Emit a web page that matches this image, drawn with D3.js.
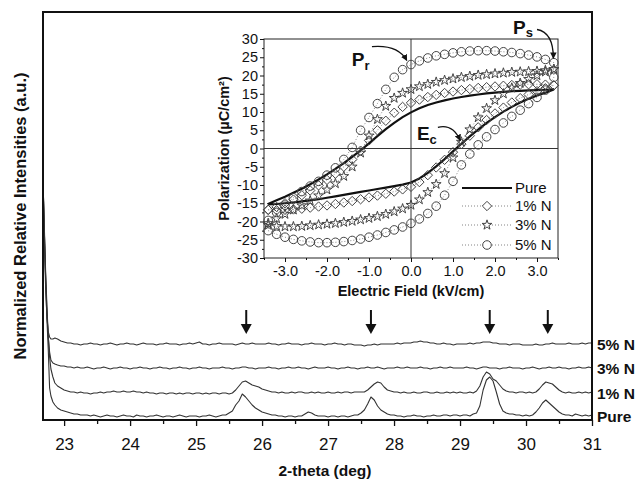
<!DOCTYPE html>
<meta charset="utf-8">
<style>
body { margin: 0; background: #fff; }
text { font-family: "Liberation Sans", Arial, sans-serif; fill: #111; }
.trace { fill: none; stroke: #333; stroke-width: 1.1px; stroke-linejoin: round; }
.frame { fill: none; stroke: #111; stroke-width: 2px; }
.axis path { display: none; }
.axis line { stroke: #111; stroke-width: 1.3px; }
.inset .axis line { stroke-width: 1px; }
</style>
<body>
<script src="https://cdn.jsdelivr.net/npm/d3@7"></script>
<script>

// ---------- XRD data (main plot) ----------
// first few angles are taken closer together, then the scan is every 0.05 deg
var thetaHead = [22.68, 22.70, 22.72, 22.74, 22.76, 22.78, 22.80, 22.83, 22.86, 22.90, 22.95];
var theta = thetaHead.concat(d3.range(161).map(function(i) { return +(23 + i * 0.05).toFixed(2); }));

var samples = ["Pure", "1% N", "3% N", "5% N"];
var offsets = [0, 23, 48, 72];

var pure = [240,190,140,100,70,32,24,18,15,12,10,
  9,8,7,6,6,5,5,5,4,5,
  4,3,4,5,4,4,3,4,5,4,
  4,3,5,4,4,3,4,4,5,4,
  3,4,4,3,4,5,4,3,4,4,
  4,3,4,4,5,4,3,4,5,5,
  7,9,15,19,26,23,19,15,12,10,
  8,7,6,5,5,4,4,3,4,4,
  3,4,4,6,8,7,5,4,4,4,
  3,4,4,3,4,4,3,4,5,5,
  7,10,16,23,20,14,10,8,6,5,
  5,4,4,3,4,4,5,4,4,3,
  4,4,5,4,4,5,5,4,5,5,
  4,5,5,4,6,7,14,30,40,43,
  39,28,16,9,7,6,6,5,5,4,
  5,4,5,8,12,17,20,17,14,11,
  8,6,5,5,4,6,5,4,5,4,
  5];

var n1 = [217,170,125,90,60,40,28,20,14,11,9,
  7,6,5,5,4,5,4,4,3,4,
  4,5,4,5,5,6,5,5,6,5,
  5,6,5,5,4,5,4,4,3,4,
  4,3,4,4,3,4,3,4,4,3,
  4,4,3,4,3,4,4,3,4,4,
  3,4,7,11,15,16,14,12,11,10,
  8,7,6,5,5,4,5,4,4,5,
  4,5,5,4,4,5,4,5,4,4,
  5,4,4,5,4,5,5,4,5,5,
  5,5,7,10,13,15,14,10,7,6,
  5,5,4,5,4,4,5,4,4,5,
  5,4,4,5,4,4,5,4,5,4,
  5,4,4,5,4,6,11,20,25,23,
  18,16,12,8,6,5,5,4,5,5,
  4,5,4,5,8,12,15,14,13,10,
  7,5,4,5,4,4,5,4,5,4,
  5];

var n3 = [192,140,95,60,35,20,12,9,8,7,6,
  6,5,5,4,5,4,4,5,4,3,
  4,4,5,4,3,4,4,5,4,4,
  3,4,4,5,4,4,3,4,4,5,
  4,4,3,4,4,5,4,4,3,4,
  4,5,4,4,3,4,4,4,5,4,
  4,3,4,4,5,5,4,4,3,4,
  4,4,5,4,4,3,4,4,5,4,
  4,5,4,4,3,4,5,4,4,4,
  5,4,4,3,4,4,5,4,4,3,
  4,4,5,4,4,5,4,3,4,4,
  4,5,4,4,5,4,4,4,5,4,
  4,3,4,4,5,4,4,5,4,4,
  4,4,5,4,4,3,4,5,5,4,
  4,4,3,4,4,5,4,4,4,3,
  4,4,5,4,3,4,4,5,4,4,
  5,4,4,3,4,4,5,4,4,5,
  4];

var n5 = [168,110,60,30,16,11,9,9,10,9,7,
  6,5,5,4,4,3,4,4,5,4,
  4,3,4,4,5,4,3,4,4,5,
  4,4,3,4,5,4,4,4,3,4,
  4,5,4,4,4,3,4,4,5,4,
  5,6,4,4,3,4,4,5,4,4,
  4,4,3,4,5,4,4,5,4,4,
  4,4,5,4,4,3,4,4,5,4,
  4,4,3,4,4,5,4,4,4,3,
  4,4,5,4,4,3,4,4,3,3,
  3,2,3,3,4,3,4,4,4,4,
  4,5,4,5,5,5,6,6,7,6,
  6,5,5,4,4,5,4,4,3,4,
  4,4,4,5,4,5,5,6,6,6,
  5,5,4,4,4,3,4,4,4,3,
  3,3,3,4,3,3,4,4,5,4,
  4,4,4,5,4,4,4,5,4,5,
  5];

var peakArrows = [25.76, 27.65, 29.45, 30.33];
var xTicks = [23, 24, 25, 26, 27, 28, 29, 30, 31];

// ---------- P-E loops (inset) ----------
var field = [-3.4,-3.2,-3.0,-2.8,-2.6,-2.4,-2.2,-2.0,-1.8,-1.6,-1.4,-1.2,-1.0,-0.8,-0.6,-0.4,-0.2,
  0,0.2,0.4,0.6,0.8,1.0,1.2,1.4,1.6,1.8,2.0,2.2,2.4,2.6,2.8,3.0,3.2,3.4];

var pureUp = [-15.2,-14.2,-13.2,-12.1,-11.0,-9.8,-8.5,-7.1,-5.6,-4.0,-2.3,-0.5,1.4,3.4,5.3,7.0,8.6,
  9.9,11.0,11.9,12.6,13.2,13.7,14.1,14.5,14.8,15.1,15.3,15.5,15.7,15.8,15.9,16.0,16.1,16.2];
var pureLo = [-15.3,-15.2,-15.0,-14.8,-14.5,-14.2,-13.9,-13.5,-13.1,-12.7,-12.3,-11.9,-11.5,-11.1,-10.7,-10.3,-9.9,
  -9.3,-8.2,-6.7,-4.9,-2.9,-0.8,1.3,3.3,5.2,7.0,8.6,10.1,11.4,12.6,13.6,14.5,15.3,16.2];

var n1Up = [-16.8,-16.0,-15.0,-14.0,-12.8,-11.5,-10.1,-8.6,-6.9,-5.0,-3.0,-0.6,2.2,5.0,7.6,9.8,11.4,
  12.5,13.4,14.1,14.7,15.2,15.6,16.0,16.3,16.6,16.8,17.0,17.2,17.4,17.5,17.6,17.6,17.5,17.3];
var n1Lo = [-16.8,-16.9,-16.8,-16.7,-16.5,-16.2,-15.9,-15.6,-15.2,-14.8,-14.4,-13.9,-13.4,-12.9,-12.4,-11.8,-11.2,
  -10.5,-9.2,-7.3,-5.2,-3.1,-1.0,1.2,3.5,5.8,7.8,9.6,11.2,12.6,13.8,14.8,15.7,16.5,17.3];

var n3Up = [-20.5,-19.2,-18.0,-16.8,-15.6,-14.3,-12.9,-11.3,-9.6,-7.6,-5.0,-1.2,3.5,8.0,11.6,13.8,15.2,
  16.2,17.0,17.6,18.2,18.7,19.1,19.5,19.8,20.1,20.3,20.5,20.7,20.9,21.0,21.1,21.2,21.4,21.7];
var n3Lo = [-21.0,-21.3,-21.4,-21.4,-21.3,-21.1,-20.9,-20.7,-20.5,-20.2,-19.9,-19.5,-19.1,-18.6,-18.0,-17.3,-16.5,
  -15.5,-14.0,-12.0,-9.8,-6.8,-2.5,1.8,5.2,8.5,11.0,13.2,15.0,16.6,17.9,19.0,20.0,21.0,21.7];

var n5Up = [-19.7,-17.5,-15.5,-13.5,-11.8,-10.3,-9.0,-7.3,-5.3,-3.0,0.3,5.0,8.5,12.3,16.2,19.5,21.6,
  23.0,24.0,24.8,25.4,25.8,26.2,26.5,26.7,26.8,26.8,26.7,26.5,26.3,26.0,25.6,25.1,24.4,23.5];
var n5Lo = [-22.5,-23.5,-24.3,-24.9,-25.3,-25.6,-25.8,-25.8,-25.7,-25.5,-25.2,-24.8,-24.3,-23.7,-23.0,-22.3,-21.5,
  -20.5,-19.3,-17.8,-15.8,-12.8,-9.0,-4.5,-1.5,1.0,3.2,5.2,7.0,8.8,10.5,12.3,14.0,16.0,19.5];

var eTicks = [-3, -2, -1, 0, 1, 2, 3];
var pTicks = [-30, -25, -20, -15, -10, -5, 0, 5, 10, 15, 20, 25, 30];

// ---------- svg ----------
var svg = d3.select("body").append("svg")
    .attr("width", 641)
    .attr("height", 479);

// main scales
var x = d3.scaleLinear().domain([22.68, 31]).range([43, 592]);
var y = d3.scaleLinear().domain([0, 408]).range([420, 12]);

// traces
var series = [pure, n1, n3, n5];
series.forEach(function(vals, k) {
  var line = d3.line()
      .x(function(d, i) { return x(theta[i]); })
      .y(function(d) { return y(d + offsets[k]); });
  svg.append("path").datum(vals).attr("class", "trace").attr("d", line);
});

// frame
svg.append("rect").attr("class", "frame")
    .attr("x", x.range()[0]).attr("y", y.range()[1])
    .attr("width", x.range()[1] - x.range()[0])
    .attr("height", y.range()[0] - y.range()[1]);

// x axis (major + minor)
svg.append("g").attr("class", "axis")
    .attr("transform", "translate(0," + y(0) + ")")
    .call(d3.axisBottom(x).tickValues(xTicks).tickSize(6).tickPadding(12).tickFormat(d3.format("d")))
    .selectAll("text").style("font-size", "17px").attr("fill", "#111");
svg.append("g").attr("class", "axis")
    .attr("transform", "translate(0," + y(0) + ")")
    .call(d3.axisBottom(x).tickValues(xTicks.slice(0, -1).map(function(d) { return d + 0.5; })).tickSize(4).tickFormat(""));

svg.append("text")
    .attr("x", 325).attr("y", 476)
    .attr("text-anchor", "middle")
    .style("font-size", "15.5px").style("font-weight", "bold")
    .text("2-theta (deg)");

svg.append("text")
    .attr("transform", "translate(26,216) rotate(-90)")
    .attr("text-anchor", "middle")
    .style("font-size", "16.5px").style("font-weight", "bold")
    .text("Normalized Relative Intensities (a.u.)");

// sample labels at right
samples.forEach(function(s, k) {
  svg.append("text")
      .attr("x", 597).attr("y", y(offsets[k] + 4))
      .attr("dy", "0.36em")
      .style("font-size", "15.5px").style("font-weight", "bold")
      .text(s);
});

// peak arrows
peakArrows.forEach(function(t) {
  var xa = x(t);
  svg.append("line")
      .attr("x1", xa).attr("x2", xa)
      .attr("y1", y(110)).attr("y2", y(93))
      .attr("stroke", "#111").attr("stroke-width", 2);
  svg.append("path")
      .attr("d", "M" + (xa - 5.5) + "," + y(96) + "L" + (xa + 5.5) + "," + y(96) + "L" + xa + "," + y(86) + "Z")
      .attr("fill", "#111");
});

// ---------- inset ----------
var ix = d3.scaleLinear().domain([-3.5, 3.5]).range([264, 558]);
var iy = d3.scaleLinear().domain([-30, 30]).range([258, 39]);

var inset = svg.append("g").attr("class", "inset");

inset.append("rect")
    .attr("x", ix(-3.5)).attr("y", iy(30))
    .attr("width", ix(3.5) - ix(-3.5)).attr("height", iy(-30) - iy(30))
    .attr("fill", "#fff").attr("stroke", "#222").attr("stroke-width", 1);

// zero lines
inset.append("line").attr("x1", ix(0)).attr("x2", ix(0)).attr("y1", iy(30)).attr("y2", iy(-30))
    .attr("stroke", "#333").attr("stroke-width", 1);
inset.append("line").attr("x1", ix(-3.5)).attr("x2", ix(3.5)).attr("y1", iy(0)).attr("y2", iy(0))
    .attr("stroke", "#333").attr("stroke-width", 1);

// axes
inset.append("g").attr("class", "axis")
    .attr("transform", "translate(" + ix(-3.5) + ",0)")
    .call(d3.axisLeft(iy).tickValues(pTicks).tickSize(4).tickPadding(2).tickFormat(function(d) { return String(d); }))
    .selectAll("text").style("font-size", "14.5px").attr("fill", "#111");
inset.append("g").attr("class", "axis")
    .attr("transform", "translate(" + ix(-3.5) + ",0)")
    .call(d3.axisLeft(iy).tickValues(pTicks.slice(0, -1).map(function(d) { return d + 2.5; })).tickSize(2).tickFormat(""));
inset.append("g").attr("class", "axis")
    .attr("transform", "translate(0," + iy(-30) + ")")
    .call(d3.axisBottom(ix).tickValues(eTicks).tickSize(4).tickPadding(4).tickFormat(function(d) { return d.toFixed(1); }))
    .selectAll("text").style("font-size", "14.5px").attr("fill", "#111");
inset.append("g").attr("class", "axis")
    .attr("transform", "translate(0," + iy(-30) + ")")
    .call(d3.axisBottom(ix).tickValues([-3.5, -2.5, -1.5, -0.5, 0.5, 1.5, 2.5, 3.5]).tickSize(2).tickFormat(""));

inset.append("text")
    .attr("x", ix(0)).attr("y", 296)
    .attr("text-anchor", "middle")
    .style("font-size", "14.5px").style("font-weight", "bold")
    .text("Electric Field (kV/cm)");
inset.append("text")
    .attr("transform", "translate(229," + iy(0) + ") rotate(-90)")
    .attr("text-anchor", "middle")
    .style("font-size", "14.5px").style("font-weight", "bold")
    .text("Polarization (\u00B5C/cm\u00B2)");

// loops
function loopPoints(lo, up) {
  var pts = field.map(function(e, i) { return [e, lo[i]]; });
  for (var i = field.length - 1; i >= 0; i--) pts.push([field[i], up[i]]);
  return pts;
}
var loopLine = d3.line()
    .x(function(d) { return ix(d[0]); })
    .y(function(d) { return iy(d[1]); });

var loops = [
  {name: "Pure", pts: loopPoints(pureLo, pureUp), symbol: null},
  {name: "1% N", pts: loopPoints(n1Lo, n1Up), symbol: d3.symbol().type(d3.symbolDiamond2).size(56)},
  {name: "3% N", pts: loopPoints(n3Lo, n3Up), symbol: d3.symbol().type(d3.symbolStar).size(30)},
  {name: "5% N", pts: loopPoints(n5Lo, n5Up), symbol: "circle"}
];

loops.forEach(function(s) {
  if (s.symbol === null) {
    inset.append("path").datum(s.pts.concat([s.pts[0]]))
        .attr("d", loopLine).attr("fill", "none")
        .attr("stroke", "#111").attr("stroke-width", 2.2);
    return;
  }
  inset.append("path").datum(s.pts.concat([s.pts[0]]))
      .attr("d", loopLine).attr("fill", "none")
      .attr("stroke", "#666").attr("stroke-width", 0.8).attr("stroke-dasharray", "1,2");
  var g = inset.append("g");
  if (s.symbol === "circle") {
    g.selectAll("circle").data(s.pts).enter().append("circle")
        .attr("cx", function(d) { return ix(d[0]); })
        .attr("cy", function(d) { return iy(d[1]); })
        .attr("r", 4.3)
        .attr("fill", "none").attr("stroke", "#444").attr("stroke-width", 1);
  } else {
    g.selectAll("path").data(s.pts).enter().append("path")
        .attr("transform", function(d) { return "translate(" + ix(d[0]) + "," + iy(d[1]) + ")"; })
        .attr("d", s.symbol)
        .attr("fill", "none").attr("stroke", "#444").attr("stroke-width", 1);
  }
});

// legend
var legY = [188, 206, 225, 245];
loops.forEach(function(s, k) {
  var ly = legY[k];
  if (s.symbol === null) {
    inset.append("line").attr("x1", 462).attr("x2", 512).attr("y1", ly).attr("y2", ly)
        .attr("stroke", "#111").attr("stroke-width", 2.2);
  } else {
    inset.append("line").attr("x1", 462).attr("x2", 512).attr("y1", ly).attr("y2", ly)
        .attr("stroke", "#666").attr("stroke-width", 0.8).attr("stroke-dasharray", "1,2");
    if (s.symbol === "circle") {
      inset.append("circle").attr("cx", 487).attr("cy", ly).attr("r", 4.3)
          .attr("fill", "#fff").attr("stroke", "#444");
    } else {
      inset.append("path").attr("transform", "translate(487," + ly + ")").attr("d", s.symbol)
          .attr("fill", "#fff").attr("stroke", "#444");
    }
  }
  inset.append("text").attr("x", 515).attr("y", ly).attr("dy", "0.36em")
      .style("font-size", "15px").text(s.name);
});

// annotations (Pr, Ps, Ec) with curved arrows, placed in field/polarization units
var notes = [
  {main: "P", sub: "r", at: [-1.41, 22.7], from: [-0.93, 27.9], ctrl: [-0.31, 28.5], to: [-0.1, 24.1]},
  {main: "P", sub: "s", at: [2.43, 31.5], from: [3.0, 32.6], ctrl: [3.39, 31.8], to: [3.39, 24.7]},
  {main: "E", sub: "c", at: [0.14, 2.2], from: [0.64, 5.8], ctrl: [1.0, 6.8], to: [1.17, 2.2]}
];
svg.append("defs").append("marker")
    .attr("id", "head").attr("viewBox", "0 0 10 10")
    .attr("refX", 9).attr("refY", 5)
    .attr("markerWidth", 5).attr("markerHeight", 5)
    .attr("orient", "auto")
  .append("path").attr("d", "M0,0L10,5L0,10Z").attr("fill", "#111");

notes.forEach(function(n) {
  var t = svg.append("text")
      .attr("x", ix(n.at[0])).attr("y", iy(n.at[1]))
      .style("font-size", "19px").style("font-weight", "bold");
  t.append("tspan").text(n.main);
  t.append("tspan").attr("dy", "0.3em").style("font-size", "13px").text(n.sub);
  svg.append("path")
      .attr("d", "M" + ix(n.from[0]) + "," + iy(n.from[1]) +
                 "Q" + ix(n.ctrl[0]) + "," + iy(n.ctrl[1]) + " " + ix(n.to[0]) + "," + iy(n.to[1]))
      .attr("fill", "none").attr("stroke", "#111").attr("stroke-width", 1.3)
      .attr("marker-end", "url(#head)");
});

</script>
</body>
